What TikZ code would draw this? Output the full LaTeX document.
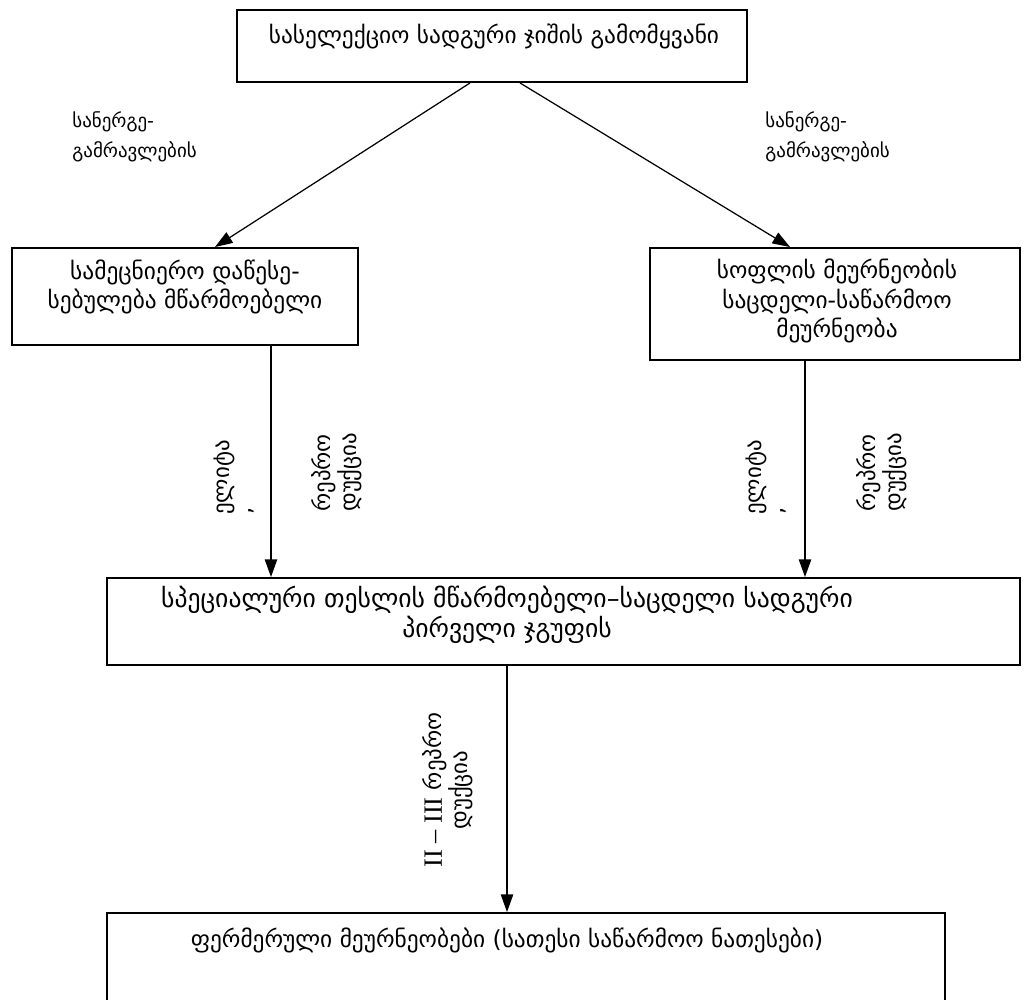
\documentclass[tikz,border=0pt]{standalone}
\usepackage{fontspec}
\setmainfont{DejaVu Sans}
\newfontfamily\romfont{Liberation Serif}
\usepackage{tikz}
\usetikzlibrary{arrows.meta, positioning}
\tikzstyle{box} = [rectangle, draw=black, line width=1.1pt, inner sep=0pt]
\tikzstyle{boxtext} = [align=center, inner sep=0pt, font=\fontsize{13.3}{17}\selectfont]
\tikzstyle{sidetext} = [align=left, anchor=west, inner sep=0pt, font=\fontsize{10.8}{17}\selectfont]
\tikzstyle{vtext} = [rotate=90, align=left, anchor=west, inner sep=0pt, font=\fontsize{13}{13}\selectfont]
\tikzstyle{arrow} = [line width=0.7pt, -{Triangle[width=7pt,length=10pt]}]

\begin{document}
\begin{tikzpicture}[x=0.02cm, y=-0.02cm]
\useasboundingbox (0,0) rectangle (1034,1000);

% Top box
\node (station) [box, minimum width=10.2cm, minimum height=1.44cm] at (492,46) {};
\node (stationtxt) [boxtext] at (494,36) {სასელექციო სადგური ჯიშის გამომყვანი};

% Second row
\node (science) [box, minimum width=6.92cm, minimum height=1.94cm] at (185,296.5) {};
\node (sciencetxt) [boxtext] at (185,287) {სამეცნიერო დაწესე-\\სებულება მწარმოებელი};
\node (farm) [box, minimum width=7.4cm, minimum height=2.24cm] at (835,304) {};
\node (farmtxt) [boxtext] at (837,301) {სოფლის მეურნეობის\\საცდელი-საწარმოო\\მეურნეობა};

% Third row
\node (seed) [box, minimum width=18.26cm, minimum height=1.74cm] at (563.5,621.5) {};
\node (seedtxt) [boxtext, font=\fontsize{14.6}{17}\selectfont] at (507,615) {სპეციალური თესლის მწარმოებელი–საცდელი სადგური\\პირველი ჯგუფის};

% Bottom box
\node (farms) [box, minimum width=16.76cm, minimum height=4cm] at (526,1013) {};
\node (farmstxt) [boxtext] at (507,940) {ფერმერული მეურნეობები (სათესი საწარმოო ნათესები)};

% Arrow labels
\node (nurseryL) [sidetext] at (72,137) {სანერგე-\\გამრავლების};
\node (nurseryR) [sidetext] at (765,137) {სანერგე-\\გამრავლების};
\node (eliteL) [vtext] at (234,515) {ელიტა\\,};
\node (reproL) [vtext] at (337,512) {რეპრო\\დუქცია};
\node (eliteR) [vtext] at (766,515) {ელიტა\\,};
\node (reproR) [vtext] at (882,512) {რეპრო\\დუქცია};
\node (reproB) [vtext, align=center, anchor=center] at (448,790) {{\romfont\fontsize{15}{13}\selectfont II – III} რეპრო\\დუქცია};

% Arrows
\draw [arrow] ([xshift=-0.44cm]station.south) -- ([xshift=0.6cm]science.north);
\draw [arrow] ([xshift=0.56cm]station.south) -- ([xshift=-0.9cm]farm.north);
\draw [arrow] ([xshift=1.72cm]science.south) coordinate (sciout) -- (sciout |- seed.north);
\draw [arrow] ([xshift=-0.6cm]farm.south) coordinate (farmout) -- (farmout |- seed.north);
\draw [arrow] ([xshift=-1.13cm]seed.south) coordinate (seedout) -- (seedout |- farms.north);

\end{tikzpicture}
\end{document}
